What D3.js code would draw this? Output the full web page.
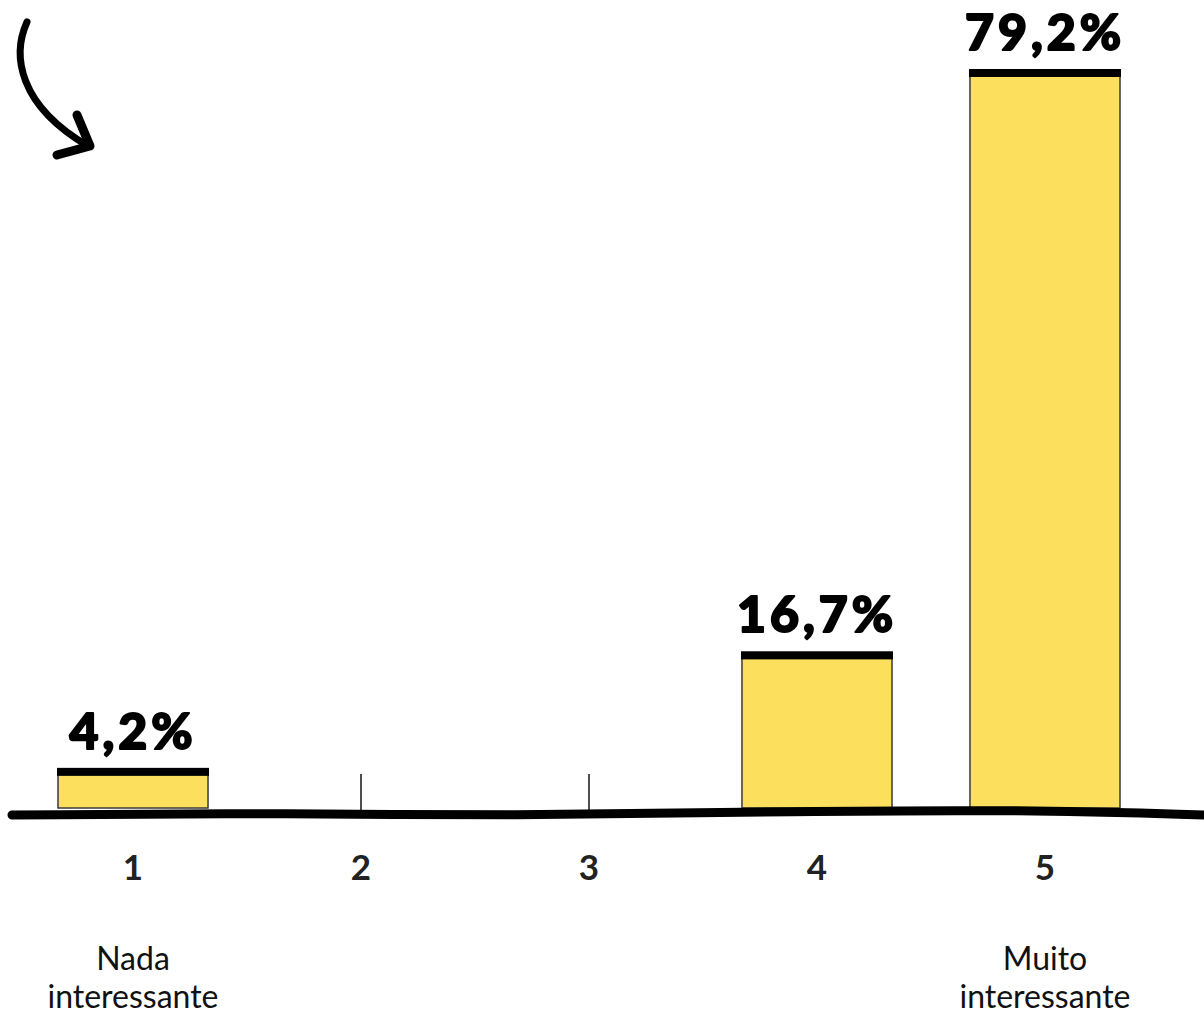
<!DOCTYPE html>
<html>
<head>
<meta charset="utf-8">
<script src="https://cdn.jsdelivr.net/npm/d3@7"></script>
<style>
  body { margin: 0; background: #fff; }
  svg { display: block; }
</style>
</head>
<body>
<div id="chart"></div>
<script>
// data
let categories = ["1", "2", "3", "4", "5"];
let values = [4.2, 0, 0, 16.7, 79.2];
let valueLabels = ["4,2%", "", "", "16,7%", "79,2%"];
let endLabels = [["Nada", "interessante"], [], [], [], ["Muito", "interessante"]];

let width = 1204;
let height = 1014;
let baseY = 808;

let svg = d3.select("#chart")
    .append("svg")
    .attr("width", width)
    .attr("height", height);

let x = d3.scaleBand()
    .domain(categories)
    .range([58, 1120])
    .paddingInner(0.342)
    .paddingOuter(0);

let y = d3.scaleLinear()
    .domain([0, 79.2])
    .range([baseY, 70]);

let data = categories.map((c, i) => ({cat: c, value: values[i], label: valueLabels[i], end: endLabels[i]}));

// bars
let bars = svg.append("g").attr("class", "bars")
    .selectAll("g")
    .data(data.filter(d => d.value > 0))
    .enter()
    .append("g");

bars.append("rect")
    .attr("x", d => x(d.cat))
    .attr("y", d => y(d.value))
    .attr("width", x.bandwidth())
    .attr("height", d => baseY - y(d.value))
    .attr("fill", "#FDDF5E")
    .attr("stroke", "#3a3a3a")
    .attr("stroke-width", 1.5);

// black cap on top of each bar
bars.append("rect")
    .attr("x", d => x(d.cat) - 1)
    .attr("y", d => y(d.value) - 1)
    .attr("width", x.bandwidth() + 2)
    .attr("height", 8)
    .attr("fill", "#000");

bars.append("text")
    .attr("x", d => x(d.cat) + x.bandwidth() / 2)
    .attr("y", d => y(d.value) - 20)
    .attr("text-anchor", "middle")
    .attr("font-family", "Lato, 'Open Sans', sans-serif")
    .attr("font-weight", 900)
    .attr("font-size", 50)
    .attr("letter-spacing", 4)
    .attr("fill", "#000")
    .attr("stroke", "#000")
    .attr("stroke-width", 2)
    .attr("stroke-linejoin", "round")
    .text(d => d.label);

// small ticks for empty categories
svg.append("g")
    .selectAll("line")
    .data(data.filter(d => d.value === 0))
    .enter()
    .append("line")
    .attr("x1", d => x(d.cat) + x.bandwidth() / 2)
    .attr("x2", d => x(d.cat) + x.bandwidth() / 2)
    .attr("y1", baseY - 34)
    .attr("y2", baseY + 2)
    .attr("stroke", "#222")
    .attr("stroke-width", 1.6);

// hand drawn baseline
let wave = d3.line().curve(d3.curveBasis);
svg.append("path")
    .attr("d", wave([[12, 815], [300, 813], [500, 816], [800, 811], [1050, 810], [1204, 815]]))
    .attr("fill", "none")
    .attr("stroke", "#000")
    .attr("stroke-width", 9)
    .attr("stroke-linecap", "round");

// category numbers
svg.append("g")
    .selectAll("text")
    .data(data)
    .enter()
    .append("text")
    .attr("x", d => x(d.cat) + x.bandwidth() / 2)
    .attr("y", 880)
    .attr("text-anchor", "middle")
    .attr("font-family", "Lato, sans-serif")
    .attr("font-weight", 700)
    .attr("font-size", 35)
    .attr("fill", "#222")
    .text(d => d.cat);

// scale end descriptions
let ends = svg.append("g")
    .selectAll("text")
    .data(data.filter(d => d.end.length))
    .enter()
    .append("text")
    .attr("text-anchor", "middle")
    .attr("font-family", "Lato, sans-serif")
    .attr("font-size", 32)
    .attr("fill", "#111");

ends.selectAll("tspan")
    .data(d => d.end.map(t => ({t: t, cx: x(d.cat) + x.bandwidth() / 2})))
    .enter()
    .append("tspan")
    .attr("x", t => t.cx)
    .attr("y", (t, i) => 970 + i * 38)
    .text(t => t.t);

// curved arrow, top left
let arrow = svg.append("g").attr("fill", "none").attr("stroke", "#000").attr("stroke-linecap", "round");
arrow.append("path")
    .attr("d", "M27,22 C12,55 18,105 88,146")
    .attr("stroke-width", 7);
arrow.append("path")
    .attr("d", "M77,115 L90,146 L57,155")
    .attr("stroke-width", 9)
    .attr("stroke-linejoin", "round");
</script>
</body>
</html>
